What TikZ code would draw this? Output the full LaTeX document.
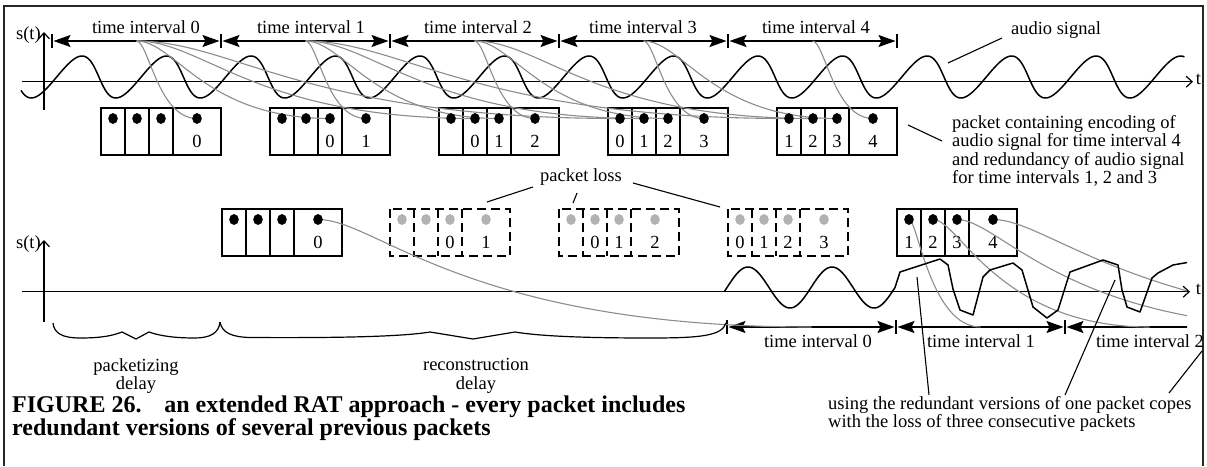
\documentclass[tikz,border=0pt]{standalone}
\usepackage{fontspec}
\setmainfont{Liberation Serif}
\usetikzlibrary{arrows.meta,calc}

% one packet: outline, three dividers, named dot positions and cell numbers
\newcommand\packet[9]{%
  \draw[#4] (#2,#3) rectangle ++(120,47);
  \foreach \d in {24,48,72} {\draw[#4] (#2+\d,#3) -- ++(0,47);}
  \foreach \c/\cx/\lab in {1/12/#6,2/36/#7,3/60/#8,4/96/#9} {
    \coordinate (#1c\c) at (#2+\cx,#3+10.5);
    \node[txt] (#1n\c) at (#2+\cx,#3+33.5) {\lab};
  }%
}
% the four dots of a packet
\newcommand\pdots[2]{%
  \foreach \c in {1,2,3,4} {\fill[#2] (#1c\c) ellipse [x radius=4.8, y radius=5.4];}%
}
% grey S-shaped connector between two named points
\newcommand\gcurve[4]{%
  \draw[gline] let \p1=(#1), \p2=(#2) in
    (#1) .. controls ({\x1+#3*(\x2-\x1)},\y1) and ({\x2-#4*(\x2-\x1)},\y2) .. (#2);
}

\begin{document}
\begin{tikzpicture}[x=1pt,y=-1pt,
  txt/.style={font=\fontsize{18.5}{18.5}\selectfont, inner sep=0pt},
  capt/.style={font=\fontsize{24}{26}\selectfont\bfseries, inner sep=0pt, anchor=west},
  frame/.style={line width=1.5pt, black!85},
  ax/.style={line width=1.5pt},
  axarrow/.style={ax, -{Straight Barb[length=6pt,width=11pt,line width=1.2pt]}},
  wave/.style={line width=1.5pt, line join=round},
  box/.style={line width=1.4pt},
  dbox/.style={line width=1.8pt, dash pattern=on 9pt off 5pt},
  span/.style={line width=1.3pt, shorten <=1.5pt, shorten >=1.5pt,
    {Stealth[length=17pt,width=12pt,inset=3pt]}-{Stealth[length=17pt,width=12pt,inset=3pt]}},
  tick/.style={line width=1.1pt},
  gline/.style={black!45, line width=1.1pt},
  lead/.style={line width=1.1pt},
  bdot/.style={fill=black},
  ldot/.style={fill=black!30},
  brace/.style={line width=1.2pt, line join=miter},
]
\useasboundingbox (0,0) rectangle (1207,466);

% page frame (open at the bottom)
\draw[frame] (4,466) -- (4,6) -- (1203,6) -- (1203,466);

% ================= sender side =================
\draw[axarrow] (22,81.7) -- (1193,81.7);
\node[txt] (ttop) at (1198.5,79) {t};
\draw[axarrow] (44,110) -- (44,32);
\node[txt, anchor=east] (stop) at (41,35) {s(t)};

% time intervals
\foreach \j in {0,...,5} {
  \coordinate (T\j) at (52+169*\j,41);
  \draw[tick] (52+169*\j,34) -- (52+169*\j,48);
}
\foreach \j [evaluate=\j as \k using int(\j+1)] in {0,...,4} {
  \draw[span] (T\j) -- (T\k);
  \coordinate (M\j) at (136.5+169*\j,41);
}
\foreach \j/\cx in {0/146,1/311,2/478,3/643,4/816}
  \node[txt] (ti\j) at (\cx,27) {time interval \j};

% audio signal
\draw[wave] plot[domain=-2.45:83.55, samples=900, variable=\t]
  ({56.65+13.45*(\t+0.314*sin(\t r))},{77-21*sin(\t r)});
\node[txt] (audio) at (1056,30) {audio signal};
\coordinate (audioA) at (1002,38);
\coordinate (audioB) at (948,63);
\draw[lead] (audioA) -- (audioB);

% packets as sent
\packet{A0}{101}{108}{box}{}{}{}{}{0}
\packet{A1}{270}{108}{box}{}{}{}{0}{1}
\packet{A2}{439}{108}{box}{}{}{0}{1}{2}
\packet{A3}{608}{108}{box}{}{0}{1}{2}{3}
\packet{A4}{777}{108}{box}{}{1}{2}{3}{4}

% each interval goes into its own packet and the three following ones
\gcurve{M0}{A0c4}{0.2}{0.65}
\gcurve{M0}{A1c3}{0.2}{0.65}
\gcurve{M0}{A2c2}{0.2}{0.65}
\gcurve{M0}{A3c1}{0.2}{0.65}
\gcurve{M1}{A1c4}{0.2}{0.65}
\gcurve{M1}{A2c3}{0.2}{0.65}
\gcurve{M1}{A3c2}{0.2}{0.65}
\gcurve{M1}{A4c1}{0.2}{0.65}
\gcurve{M2}{A2c4}{0.2}{0.65}
\gcurve{M2}{A3c3}{0.2}{0.65}
\gcurve{M2}{A4c2}{0.2}{0.65}
\gcurve{M3}{A3c4}{0.2}{0.65}
\gcurve{M3}{A4c3}{0.2}{0.65}
\gcurve{M4}{A4c4}{0.2}{0.65}

\foreach \p in {A0,A1,A2,A3,A4} {\pdots{\p}{bdot}}

\node[txt, align=left, anchor=west] (pnote) at (952,151)
  {packet containing encoding of\\audio signal for time interval 4\\and redundancy of audio signal\\for time intervals 1, 2 and 3};
\coordinate (pnoteA) at (942,141);
\coordinate (pnoteB) at (908,125);
\draw[lead] (pnoteA) -- (pnoteB);

% ================= receiver side =================
\draw[axarrow] (22,291.7) -- (1190,291.7);
\node[txt] (tbot) at (1198.5,289) {t};
\draw[axarrow] (44,322) -- (44,240);
\node[txt, anchor=east] (sbot) at (41,244) {s(t)};

% packets as received
\packet{B0}{222}{209}{box}{}{}{}{}{0}
\packet{B1}{390}{209}{dbox}{}{}{}{0}{1}
\packet{B2}{559}{209}{dbox}{}{}{0}{1}{2}
\packet{B3}{728}{209}{dbox}{}{0}{1}{2}{3}
\packet{B4}{897}{209}{box}{}{1}{2}{3}{4}

\node[txt] (loss) at (581,177) {packet loss};
\coordinate (lossA) at (533,187);  \coordinate (lossB) at (487,202);
\coordinate (lossC) at (577,193);  \coordinate (lossD) at (573,203);
\coordinate (lossE) at (633,183);  \coordinate (lossF) at (720,207);
\draw[lead] (lossA) -- (lossB);
\draw[lead] (lossC) -- (lossD);
\draw[lead] (lossE) -- (lossF);

% playout intervals
\foreach \j in {0,...,4} {
  \coordinate (U\j) at (727+169*\j,327);
  \coordinate (N\j) at (811.5+169*\j,327);
}
\foreach \j in {0,1,2} {\draw[tick] (727+169*\j,320) -- (727+169*\j,334);}
\draw[span] (U0) -- (U1);
\draw[span] (U1) -- (U2);
\node[txt] (ui0) at (818,341) {time interval 0};
\node[txt] (ui1) at (981,341) {time interval 1};
\node[txt] (ui2) at (1150,341) {time interval 2};

\gcurve{B0c4}{N0}{0.12}{0.7}

\begin{scope}
  \clip (0,0) rectangle (1187,466);
  \draw[span] (U2) -- (U3);
  \gcurve{B4c1}{N1}{0.12}{0.7}
  \gcurve{B4c2}{N2}{0.12}{0.7}
  \gcurve{B4c3}{N3}{0.12}{0.7}
  \gcurve{B4c4}{N4}{0.12}{0.7}
  % reconstructed signal: exact for interval 0, rebuilt from redundancy afterwards
  \draw[wave] plot[domain=-0.2:12.566, samples=140, variable=\t]
      ({727+84*\t/6.2832},{287.5-20.5*sin(\t r)})
    -- (900,272) -- (940,259) -- (948,265) -- (953,289) -- (960,310) -- (973,315)
    -- (983,277) -- (990,270) -- (1013,263) -- (1022,270) -- (1033,307) -- (1047,318)
    -- (1058,310) -- (1070,272) -- (1103,260) -- (1118,265) -- (1122,290) -- (1127,307)
    -- (1140,312) -- (1152,278) -- (1158,273) -- (1173,265) -- (1190,262);
\end{scope}

\pdots{B0}{bdot}
\pdots{B1}{ldot}
\pdots{B2}{ldot}
\pdots{B3}{ldot}
\pdots{B4}{bdot}

% delays
\draw[brace] (53,323) .. controls (54,333) and (62,338) .. (80,338)
  .. controls (100,338) and (112,336) .. (122,332) -- (136,339) -- (149,332)
  .. controls (160,336) and (175,338) .. (195,338) .. controls (210,338) and (219,333) .. (220,322);
\draw[brace] (220,322) .. controls (222,333) and (232,337) .. (250,337.5)
  .. controls (330,338) and (400,337) .. (430,332) -- (473,339) -- (515,332)
  .. controls (545,337) and (600,338) .. (650,338) .. controls (700,338) and (722,336) .. (726,323);
\node[txt, align=center] (pdel) at (136,376) {packetizing\\delay};
\node[txt, align=center] (rdel) at (476,376) {reconstruction\\delay};

% explanation
\node[txt, align=left, anchor=west] (rnote) at (828,414)
  {using the redundant versions of one packet copes\\with the loss of three consecutive packets};
\coordinate (rA) at (929,395); \coordinate (rB) at (917,277);
\coordinate (rC) at (1065,395); \coordinate (rD) at (1115,280);
\coordinate (rE) at (1169,393); \coordinate (rF) at (1202,351);
\draw[lead] (rA) -- (rB);
\draw[lead] (rC) -- (rD);
\draw[lead] (rE) -- (rF);

% caption
\node[capt] (cap1) at (12,407) {FIGURE 26.\hspace{0.95em}an extended RAT approach - every packet includes};
\node[capt] (cap2) at (12,430) {redundant versions of several previous packets};
\end{tikzpicture}
\end{document}
